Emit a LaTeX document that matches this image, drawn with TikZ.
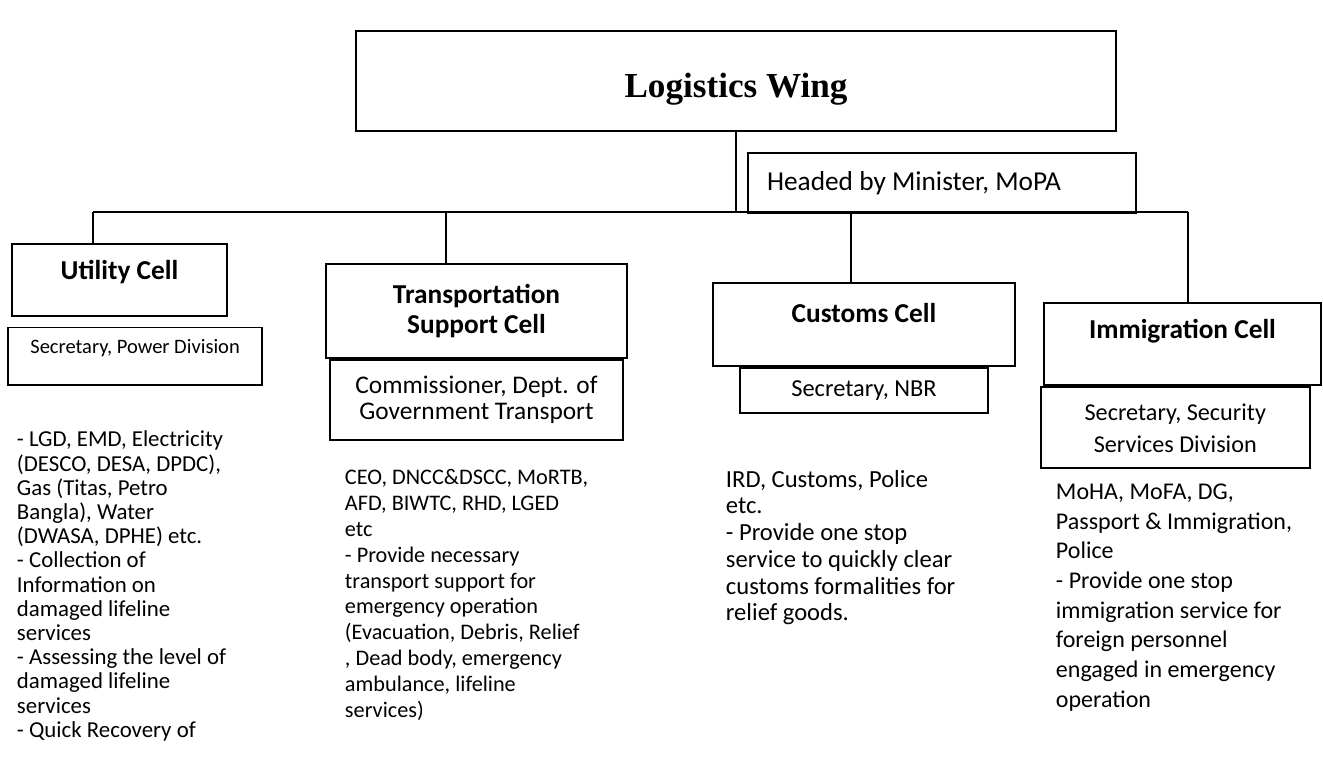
\documentclass[tikz,border=0pt]{standalone}
\usepackage{fontspec}
\setmainfont{Carlito}
\newfontfamily\wingfont{Liberation Serif}
\usetikzlibrary{
    positioning,            % Relative positioning of nodes.
}

\begin{document}
\begin{tikzpicture}[x=0.018cm, y=-0.018cm, line width=1pt,
        box/.style={draw, rectangle, inner sep=0pt, align=center},
        cellhead/.style={box, font=\fontsize{14}{15.5}\selectfont\bfseries},
        chief/.style={box, font=\fontsize{12.5}{13.5}\selectfont},
        duties/.style={anchor=north west, inner sep=0pt, align=left}]
    \useasboundingbox (0,0) rectangle (1323,771);

    % the wing and its head
    \node[box, font=\wingfont\fontsize{18}{21}\selectfont\bfseries,
        minimum width=13.7cm, minimum height=1.8cm, text height=21pt]
        (wing) at (736,81) {Logistics Wing};
    \node[box, font=\fontsize{14}{16}\selectfont, align=flush left,
        text width=6.3cm, inner xsep=0.35cm, minimum height=1.08cm]
        (head) at (942,183) {Headed by Minister, MoPA};

    % the four cells
    \node[cellhead, minimum width=3.87cm, minimum height=1.28cm, text depth=10pt]
        (util) at (119.5,280) {Utility Cell};
    \node[chief, font=\fontsize{10.5}{12}\selectfont, minimum width=4.57cm,
        minimum height=1.03cm, text depth=10pt,
        below=0.18cm of util, xshift=0.28cm] (power) {Secretary, Power Division};

    \node[cellhead, minimum width=5.42cm, minimum height=1.69cm]
        (trans) at (476.5,311) {Transportation\\Support Cell};
    \node[chief, font=\fontsize{13}{13.3}\selectfont, minimum width=5.29cm,
        minimum height=1.44cm, below=0pt of trans]
        (dgt) {Commissioner, Dept. of\\Government Transport};

    \node[cellhead, minimum width=5.44cm, minimum height=1.51cm, text depth=12pt]
        (cust) at (864,324.5) {Customs Cell};
    \node[chief, minimum width=4.45cm, minimum height=0.81cm, below=0pt of cust]
        (nbr) {Secretary, NBR};

    \node[cellhead, minimum width=4.99cm, minimum height=1.49cm, text depth=15pt]
        (immi) at (1182.5,344) {Immigration Cell};
    \node[chief, font=\fontsize{12.4}{16.4}\selectfont, minimum width=4.84cm,
        minimum height=1.46cm, below=0pt of immi, xshift=-0.13cm]
        (ssd) {Secretary, Security\\Services Division};

    % bus line
    \coordinate (b1) at (93,212);
    \coordinate (b2) at (446,212);
    \coordinate (b3) at (851,212);
    \coordinate (b4) at (1188,212);
    \draw (b1) -- (b4);
    \draw (wing.south) -- (wing.south |- b1);
    \draw (b1) -- (b1 |- util.north);
    \draw (b2) -- (b2 |- trans.north);
    \draw (b3) -- (b3 |- cust.north);
    \draw (b4) -- (b4 |- immi.north);

    % what each cell does
    \node[duties, font=\fontsize{11.7}{12.4}\selectfont] (utiltxt) at (16,430)
        {- LGD, EMD, Electricity\\(DESCO, DESA, DPDC),\\Gas (Titas, Petro\\
         Bangla), Water\\(DWASA, DPHE) etc.\\- Collection of\\Information on\\
         damaged lifeline\\services\\- Assessing the level of\\damaged lifeline\\
         services\\- Quick Recovery of};
    \node[duties, font=\fontsize{11.4}{13.3}\selectfont] (transtxt) at (344,468)
        {CEO, DNCC\&DSCC, MoRTB,\\AFD, BIWTC, RHD, LGED\\etc\\
         - Provide necessary\\transport support for\\emergency operation\\
         (Evacuation, Debris, Relief\\, Dead body, emergency\\
         ambulance, lifeline\\services)};
    \node[duties, font=\fontsize{12.6}{13.7}\selectfont] (custtxt) at (725,469)
        {IRD, Customs, Police\\etc.\\- Provide one stop\\
         service to quickly clear\\customs formalities for\\relief goods.};
    \node[duties, font=\fontsize{12.3}{15.2}\selectfont] (immitxt) at (1055,483)
        {MoHA, MoFA, DG,\\Passport \& Immigration,\\Police\\
         - Provide one stop\\immigration service for\\foreign personnel\\
         engaged in emergency\\operation};
\end{tikzpicture}
\end{document}
